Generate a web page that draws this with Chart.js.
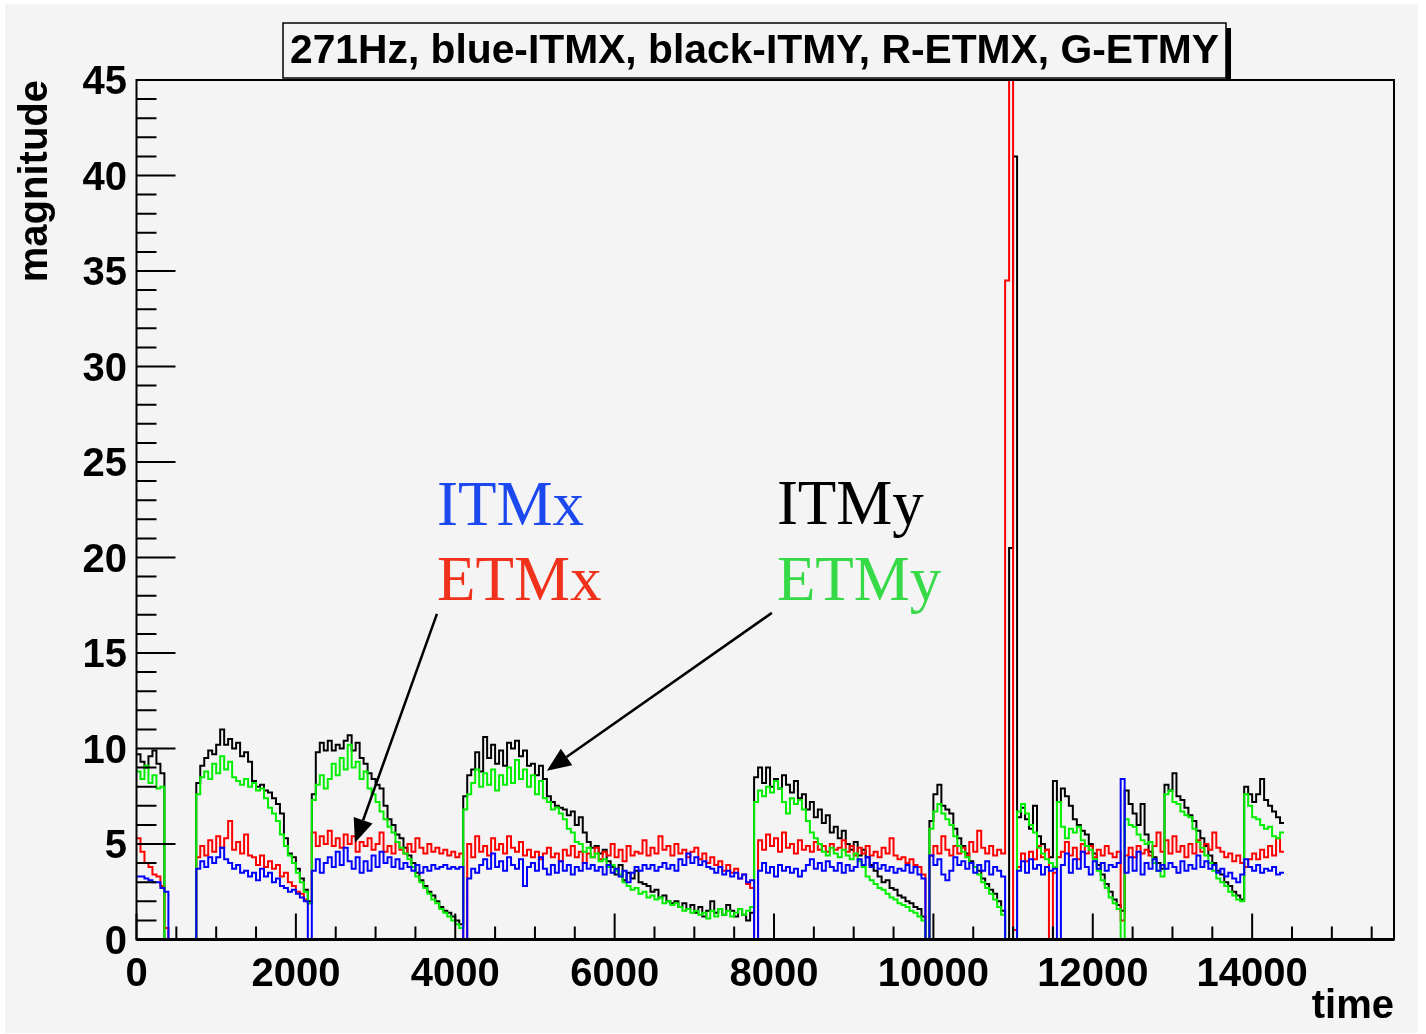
<!DOCTYPE html>
<html>
<head>
<meta charset="utf-8">
<script src="https://cdn.jsdelivr.net/npm/chart.js@4/dist/chart.umd.min.js"></script>
<style>
  html, body { margin: 0; padding: 0; background: #ffffff; }
  canvas { display: block; }
</style>
</head>
<body>
<canvas id="c" width="1426" height="1034"></canvas>
<script>
// Histogram bins: value k covers [k * BIN_WIDTH, (k + 1) * BIN_WIDTH) in time units
const BIN_WIDTH = 50;

// ITMX (blue)
const itmx = [
  3.3, 3.3, 3.2, 3.1, 3.0, 3.0, 2.7, 2.5, 0, 0,
  0, 0, 0, 0, 0, 3.7, 4.1, 3.8, 4.3, 4.0,
  4.3, 4.8, 4.2, 4.0, 3.7, 3.9, 3.5, 3.6, 3.3, 3.5,
  3.1, 3.7, 3.3, 3.5, 3.0, 3.2, 2.8, 2.7, 2.5, 2.6,
  2.4, 2.2, 2.0, 0, 3.6, 4.2, 3.5, 4.0, 4.3, 3.8,
  4.6, 3.9, 4.8, 4.1, 3.7, 4.3, 3.5, 4.1, 3.6, 4.4,
  3.8, 4.6, 4.0, 4.3, 3.8, 4.2, 3.7, 4.0, 3.8, 3.6,
  3.9, 3.5, 3.8, 3.6, 3.9, 3.7, 3.8, 3.9, 3.7, 3.8,
  3.7, 3.8, 0, 3.2, 3.7, 3.5, 3.9, 4.2, 3.7, 4.5,
  3.8, 4.1, 3.6, 4.3, 3.9, 3.7, 4.2, 2.8, 3.8, 4.0,
  3.6, 4.3, 3.7, 3.4, 3.9, 3.5, 4.1, 3.6, 3.9, 3.4,
  3.8, 3.6, 4.0, 3.7, 3.9, 3.6, 3.8, 3.4, 3.9, 3.5,
  3.7, 3.3, 3.6, 3.0, 3.5, 3.8, 3.6, 3.9, 3.7, 3.9,
  3.6, 3.8, 4.0, 3.7, 3.9, 3.6, 4.2, 3.9, 4.5, 4.0,
  4.3, 3.9, 4.1, 3.8, 3.7, 3.5, 3.8, 3.4, 3.6, 3.3,
  3.5, 3.2, 3.4, 3.0, 3.1, 0, 3.6, 4.0, 3.5, 3.8,
  3.3, 3.9, 3.6, 3.8, 3.5, 3.7, 3.3, 3.6, 3.9, 4.2,
  3.7, 4.0, 3.6, 4.1, 3.8, 3.6, 4.0, 3.5, 3.9, 3.6,
  3.8, 4.2, 3.9, 4.3, 3.8, 4.0, 3.7, 3.9, 3.6, 3.8,
  3.5, 3.7, 3.6, 3.9, 3.5, 3.8, 3.4, 3.2, 0, 4.4,
  3.9, 4.2, 3.4, 3.1, 3.6, 4.3, 3.9, 4.1, 3.7, 4.0,
  3.5, 3.9, 3.6, 4.1, 3.4, 3.8, 3.6, 3.3, 0, 0,
  0, 3.6, 4.1, 3.5, 4.2, 3.7, 3.9, 3.4, 3.8, 3.6,
  3.7, 0, 3.9, 4.5, 3.5, 4.2, 3.7, 4.6, 3.8, 3.4,
  4.1, 3.7, 4.0, 3.6, 3.9, 3.8, 4.0, 8.4, 3.5, 4.3,
  3.6, 4.6, 3.4, 4.0, 3.7, 4.2, 3.6, 3.9, 3.7, 4.0,
  3.8, 3.5, 4.1, 3.6, 3.9, 3.7, 4.4, 3.8, 4.1, 3.7,
  3.9, 3.5, 3.7, 3.3, 3.5, 3.2, 3.0, 3.4, 4.2, 3.8,
  3.6, 3.9, 3.5, 3.7, 3.6, 3.8, 3.4, 3.5
];

// ITMY (black)
const itmy = [
  9.7, 9.3, 9.0, 9.6, 9.9, 9.2, 8.7, 0, 0, 0,
  0, 0, 0, 0, 0, 8.2, 9.1, 9.5, 9.9, 9.7,
  10.2, 11.0, 10.2, 10.5, 10.0, 10.3, 9.6, 9.8, 9.3, 8.3,
  8.0, 8.1, 7.8, 7.7, 7.4, 7.1, 6.6, 5.3, 4.5, 4.3,
  3.7, 3.2, 2.6, 2.0, 7.6, 9.8, 10.3, 9.9, 10.4, 9.9,
  10.2, 10.0, 10.4, 10.7, 9.9, 10.3, 9.5, 9.2, 8.7, 8.4,
  8.1, 7.9, 7.0, 6.3, 6.0, 5.5, 5.3, 4.8, 4.4, 4.0,
  3.5, 3.1, 2.8, 2.5, 2.3, 2.0, 1.7, 1.5, 1.4, 1.2,
  1.0, 0.8, 7.5, 8.6, 8.9, 9.8, 8.8, 10.6, 9.5, 10.2,
  9.2, 9.9, 9.1, 10.3, 10.0, 10.4, 9.6, 9.9, 9.1, 9.2,
  8.6, 9.1, 8.4, 7.5, 7.2, 7.0, 6.9, 6.8, 6.5, 6.7,
  6.0, 6.4, 5.6, 5.1, 4.8, 4.9, 4.5, 4.7, 4.1, 3.8,
  3.4, 3.9, 3.1, 3.5, 3.2, 3.6, 3.0, 2.9, 2.8, 2.5,
  2.6, 2.2, 2.3, 2.0, 1.9, 2.0, 1.7, 1.9, 1.6, 1.8,
  1.4, 1.7, 1.2, 1.5, 2.0, 1.4, 1.6, 1.3, 1.8, 1.5,
  1.2, 1.6, 1.3, 1.0, 1.4, 8.5, 9.0, 8.2, 9.0, 8.0,
  8.4, 7.9, 8.6, 8.1, 7.7, 8.3, 7.4, 7.6, 6.8, 7.2,
  6.4, 6.8, 6.1, 6.5, 5.6, 5.9, 5.3, 5.7, 5.0, 4.7,
  5.1, 4.4, 4.7, 4.3, 3.9, 3.6, 3.3, 3.0, 3.1, 2.7,
  2.6, 2.3, 2.2, 2.0, 1.9, 1.7, 1.6, 1.2, 0, 6.2,
  7.6, 8.1, 7.0, 6.8, 6.6, 5.8, 5.3, 4.9, 4.5, 4.1,
  3.8, 3.6, 3.2, 2.9, 2.6, 2.4, 2.0, 1.5, 0, 20.5,
  41.0, 6.4, 6.9, 6.3, 5.8, 7.0, 5.4, 5.0, 4.7, 4.3,
  8.3, 7.2, 7.9, 7.5, 7.0, 6.3, 6.0, 5.7, 5.5, 5.0,
  4.5, 3.9, 3.4, 2.9, 2.5, 2.1, 1.8, 1.5, 7.8, 7.1,
  6.6, 6.0, 7.1, 5.5, 4.6, 4.3, 4.0, 3.7, 8.1, 7.8,
  8.7, 7.5, 7.3, 6.9, 6.5, 6.2, 5.7, 5.3, 4.9, 4.4,
  4.0, 3.6, 3.4, 3.0, 2.8, 2.5, 2.3, 2.1, 8.0, 7.6,
  7.2, 7.6, 8.4, 7.3, 7.0, 6.7, 6.4, 6.1
];

// ETMX (red)
const etmx = [
  5.3, 4.6, 4.0, 3.8, 3.4, 3.3, 2.8, 0.6, 0, 0,
  0, 0, 0, 0, 0, 4.3, 4.9, 4.4, 5.2, 4.6,
  5.4, 4.8, 5.3, 6.2, 4.7, 5.1, 4.5, 5.5, 4.4, 4.3,
  3.9, 4.4, 3.8, 4.1, 3.7, 3.9, 3.3, 3.5, 3.0, 2.8,
  2.5, 2.4, 2.1, 1.9, 5.6, 4.9, 5.4, 5.0, 5.7, 4.9,
  5.3, 4.8, 5.5, 5.0, 5.4, 4.6, 5.1, 4.9, 5.3, 4.7,
  5.0, 5.6, 4.6, 4.9, 4.5, 5.1, 4.7, 4.5, 5.0, 4.6,
  5.3, 4.8, 4.5, 5.0, 4.6, 4.8, 4.5, 4.7, 4.4, 4.6,
  4.3, 4.5, 0, 5.0, 4.3, 5.4, 4.6, 4.9, 4.4, 5.3,
  4.7, 5.0, 4.5, 5.4, 4.8, 4.6, 5.1, 4.4, 4.7, 4.3,
  4.6, 4.2, 4.5, 4.8, 4.3, 4.5, 4.1, 4.7, 4.4, 4.9,
  4.3, 4.6, 4.0, 4.5, 4.3, 4.8, 4.2, 4.6, 4.4, 5.0,
  4.3, 4.7, 4.1, 4.9, 4.4, 4.6, 4.5, 5.2, 4.4, 4.8,
  4.5, 5.4, 4.7, 4.9, 4.4, 5.0, 4.5, 4.7, 4.3, 4.6,
  4.8, 4.2, 4.5, 4.0, 4.3, 3.9, 4.1, 3.6, 3.9, 3.5,
  3.7, 3.2, 3.4, 2.9, 2.7, 0, 5.2, 4.7, 5.5, 4.9,
  5.3, 4.6, 5.6, 4.8, 5.0, 4.5, 5.2, 4.7, 4.9, 4.6,
  5.1, 4.7, 4.9, 4.6, 5.0, 4.7, 4.8, 5.2, 4.6, 4.9,
  4.4, 4.8, 4.5, 4.9, 4.4, 4.6, 4.3, 4.8, 4.5, 5.3,
  4.4, 4.2, 4.3, 4.0, 4.2, 3.9, 3.8, 3.4, 0, 4.4,
  4.9, 4.5, 5.4, 4.7, 4.4, 4.9, 4.5, 4.8, 4.4, 5.1,
  4.6, 5.7, 4.8, 4.5, 4.9, 4.4, 4.7, 4.5, 34.5, 48.0,
  0.5, 3.8, 4.5, 4.1, 4.6, 4.2, 4.9, 4.3, 4.7, 0,
  3.5, 4.3, 4.6, 5.1, 4.4, 4.8, 4.2, 5.0, 4.5, 4.9,
  4.3, 4.7, 4.4, 4.9, 4.5, 4.3, 4.6, 1.0, 4.4, 4.8,
  4.3, 4.9, 4.5, 4.7, 4.4, 4.9, 5.6, 4.6, 5.2, 4.5,
  5.4, 4.6, 4.9, 4.3, 5.0, 4.5, 5.2, 4.6, 5.0, 4.7,
  5.6, 4.8, 4.6, 4.3, 4.5, 4.1, 4.4, 4.0, 3.8, 4.2,
  4.5, 4.2, 4.7, 4.3, 4.9, 4.4, 5.3, 4.6
];

// ETMY (green)
const etmy = [
  8.8, 8.4, 9.1, 8.2, 8.6, 7.9, 8.0, 0, 0, 0,
  0, 0, 0, 0, 0, 7.6, 8.5, 8.8, 8.4, 9.2,
  8.7, 9.6, 8.9, 9.3, 8.5, 8.3, 8.1, 8.4, 8.0, 8.2,
  7.8, 7.9, 7.4, 6.9, 6.6, 6.2, 5.5, 4.9, 4.4, 4.0,
  3.5, 3.0, 2.5, 1.9, 7.3, 8.1, 8.6, 7.9, 8.4, 9.2,
  8.6, 9.5, 8.9, 10.2, 9.0, 9.3, 8.4, 8.8, 7.9, 7.6,
  7.2, 6.7, 6.3, 5.9, 5.6, 5.1, 4.8, 4.5, 4.2, 3.8,
  3.3, 3.0, 2.7, 2.4, 2.1, 1.9, 1.6, 1.4, 1.2, 1.0,
  0.8, 0.6, 6.8, 7.6, 8.2, 8.9, 8.0, 8.7, 8.1, 8.9,
  7.8, 8.6, 8.1, 9.0, 8.2, 9.4, 8.4, 8.9, 8.0, 8.6,
  7.6, 8.3, 7.4, 7.2, 6.8, 6.9, 6.6, 6.3, 5.8, 5.6,
  5.1, 5.0, 4.6, 4.8, 4.3, 4.5, 4.1, 4.2, 3.8, 3.9,
  3.6, 3.4, 3.0, 2.8, 2.6, 2.7, 2.4, 2.5, 2.2, 2.3,
  2.1, 2.2, 1.9, 2.0, 1.8, 1.9, 1.7, 1.5, 1.6, 1.4,
  1.5, 1.3, 1.4, 1.1, 1.5, 1.2, 1.6, 1.3, 1.5, 1.2,
  1.4, 1.6, 1.3, 1.5, 1.7, 7.2, 7.8, 7.5, 8.0, 7.7,
  8.3, 7.9, 7.2, 6.6, 7.4, 7.1, 7.3, 6.8, 6.2, 5.6,
  5.3, 5.0, 4.6, 4.4, 4.8, 4.5, 4.3, 4.7, 4.4, 4.2,
  4.5, 4.1, 3.8, 3.3, 3.1, 2.9, 2.7, 2.6, 2.4, 2.2,
  2.1, 1.9, 1.8, 1.7, 1.5, 1.4, 1.2, 1.0, 0, 5.8,
  6.7, 7.1, 6.6, 6.3, 6.0, 5.4, 4.9, 4.6, 4.3, 4.0,
  3.8, 3.4, 3.0, 2.7, 2.4, 2.1, 1.7, 1.3, 0, 0,
  0, 6.7, 7.1, 6.6, 6.0, 5.6, 4.8, 4.5, 4.2, 4.0,
  3.8, 7.2, 5.9, 5.3, 5.8, 5.6, 5.9, 5.2, 4.9, 4.7,
  4.2, 3.6, 3.1, 2.7, 2.2, 1.9, 1.6, 0, 6.3, 6.0,
  5.9, 5.5, 5.2, 5.0, 5.1, 4.0, 3.6, 3.3, 7.6, 7.8,
  7.2, 7.1, 6.7, 6.5, 6.4, 5.8, 5.1, 4.8, 4.4, 4.0,
  3.6, 3.2, 3.0, 2.8, 2.5, 2.3, 2.1, 2.0, 7.6, 7.0,
  6.4, 6.3, 6.0, 5.8, 5.9, 5.4, 5.3, 5.6
];

// Axis ranges and labelled ticks
const X_MAX = 15780;
const Y_MAX = 45;
const xTickValues = [0, 2000, 4000, 6000, 8000, 10000, 12000, 14000];
const yTickValues = [0, 5, 10, 15, 20, 25, 30, 35, 40, 45];
const X_MINOR_STEP = 500;
const Y_MINOR_STEP = 1;

const titleText = '271Hz, blue-ITMX, black-ITMY, R-ETMX, G-ETMY';

// Hand-written labels and arrows, positioned in (time, magnitude) units
const notes = [
  { text: 'ITMx', color: '#1c48f0', t: 3770, m: 21.7 },
  { text: 'ETMx', color: '#f0321c', t: 3770, m: 17.78 },
  { text: 'ITMy', color: '#000000', t: 8036, m: 21.77 },
  { text: 'ETMy', color: '#36d946', t: 8036, m: 17.78 }
];
const arrows = [
  { from: [3770, 17.05], to: [2742, 5.06] },
  { from: [7973, 17.1], to: [5150, 8.83] }
];

function toSteps(values) {
  const pts = values.map((v, i) => ({ x: i * BIN_WIDTH, y: v }));
  pts.push({ x: values.length * BIN_WIDTH, y: values[values.length - 1] });
  return pts;
}

const SANS = "'Liberation Sans', Arial, Helvetica, sans-serif";
const SERIF = "'Liberation Serif', 'Times New Roman', serif";
Chart.defaults.font.family = SANS;
Chart.defaults.color = '#000000';

const pagePlugin = {
  id: 'page',
  beforeDraw(chart) {
    const { ctx, width, height } = chart;
    ctx.save();
    ctx.fillStyle = '#ffffff';
    ctx.fillRect(0, 0, width, height);
    ctx.fillStyle = '#f4f4f4';
    ctx.fillRect(5, 4, width - 13, height - 5);
    ctx.restore();
  }
};

const framePlugin = {
  id: 'frame',
  afterDatasetsDraw(chart) {
    const { ctx, chartArea: a, scales: { x, y } } = chart;
    ctx.save();
    ctx.strokeStyle = '#000000';
    ctx.lineWidth = 2;
    ctx.strokeRect(a.left, a.top, a.right - a.left, a.bottom - a.top);
    ctx.beginPath();
    for (let v = 0; v <= Y_MAX; v += Y_MINOR_STEP) {
      const py = y.getPixelForValue(v);
      const len = yTickValues.includes(v) ? 39 : 20;
      ctx.moveTo(a.left, py);
      ctx.lineTo(a.left + len, py);
    }
    for (let t = 0; t <= X_MAX; t += X_MINOR_STEP) {
      const px = x.getPixelForValue(t);
      const len = xTickValues.includes(t) ? 26 : 13;
      ctx.moveTo(px, a.bottom);
      ctx.lineTo(px, a.bottom - len);
    }
    ctx.stroke();
    ctx.lineWidth = 3;
    ctx.beginPath();
    ctx.moveTo(a.left, a.bottom);
    ctx.lineTo(a.right, a.bottom);
    ctx.stroke();
    ctx.restore();
  }
};

const titlePlugin = {
  id: 'titleBox',
  afterDraw(chart) {
    const { ctx, chartArea: a } = chart;
    const left = 283, top = 23, right = 1226, bottom = a.top - 2;
    ctx.save();
    ctx.fillStyle = '#000000';
    ctx.fillRect(right, top + 5, 5, a.top - top - 5);
    ctx.fillStyle = '#f4f4f4';
    ctx.fillRect(left, top, right - left, bottom - top);
    ctx.strokeStyle = '#000000';
    ctx.lineWidth = 1.5;
    ctx.strokeRect(left, top, right - left, bottom - top);
    ctx.fillStyle = '#000000';
    ctx.font = 'bold 41px ' + SANS;
    ctx.textAlign = 'center';
    ctx.textBaseline = 'alphabetic';
    const w = ctx.measureText(titleText).width;
    const sx = 929 / w;
    ctx.translate((left + right) / 2, 63);
    ctx.scale(sx, 1);
    ctx.fillText(titleText, 0, 0);
    ctx.restore();
  }
};

const notesPlugin = {
  id: 'notes',
  afterDraw(chart) {
    const { ctx, scales: { x, y } } = chart;
    ctx.save();
    ctx.font = '63px ' + SERIF;
    ctx.textAlign = 'left';
    ctx.textBaseline = 'alphabetic';
    notes.forEach(n => {
      ctx.fillStyle = n.color;
      ctx.fillText(n.text, x.getPixelForValue(n.t), y.getPixelForValue(n.m));
    });
    ctx.strokeStyle = '#000000';
    ctx.fillStyle = '#000000';
    ctx.lineWidth = 2.5;
    arrows.forEach(ar => {
      const x0 = x.getPixelForValue(ar.from[0]), y0 = y.getPixelForValue(ar.from[1]);
      const x1 = x.getPixelForValue(ar.to[0]), y1 = y.getPixelForValue(ar.to[1]);
      const ang = Math.atan2(y1 - y0, x1 - x0);
      const headLen = 24, headHalf = 10;
      const bx = x1 - headLen * Math.cos(ang), by = y1 - headLen * Math.sin(ang);
      ctx.beginPath();
      ctx.moveTo(x0, y0);
      ctx.lineTo(bx, by);
      ctx.stroke();
      ctx.beginPath();
      ctx.moveTo(x1, y1);
      ctx.lineTo(bx + headHalf * Math.sin(ang), by - headHalf * Math.cos(ang));
      ctx.lineTo(bx - headHalf * Math.sin(ang), by + headHalf * Math.cos(ang));
      ctx.closePath();
      ctx.fill();
    });
    ctx.restore();
  }
};

const series = [
  { label: 'ITMX', data: itmx, color: '#0000ff' },
  { label: 'ETMY', data: etmy, color: '#00ee00' },
  { label: 'ETMX', data: etmx, color: '#ff0000' },
  { label: 'ITMY', data: itmy, color: '#000000' }
];

new Chart(document.getElementById('c'), {
  type: 'line',
  data: {
    datasets: series.map(s => ({
      label: s.label,
      data: toSteps(s.data),
      borderColor: s.color,
      backgroundColor: s.color,
      borderWidth: 2,
      stepped: true,
      pointRadius: 0,
      fill: false
    }))
  },
  options: {
    responsive: false,
    animation: false,
    devicePixelRatio: 1,
    layout: { padding: { left: 5, top: 80, right: 32, bottom: 0 } },
    plugins: { legend: { display: false }, tooltip: { enabled: false }, title: { display: false } },
    scales: {
      x: {
        type: 'linear',
        min: 0,
        max: X_MAX,
        grid: { display: false, drawTicks: false },
        border: { display: false },
        afterBuildTicks: s => { s.ticks = xTickValues.map(v => ({ value: v })); },
        afterFit: s => { s.height = 94.5; },
        ticks: {
          font: { size: 40, weight: 'bold' },
          color: '#000000',
          padding: 11,
          maxRotation: 0,
          autoSkip: false,
          callback: v => String(v)
        },
        title: {
          display: true,
          text: 'time',
          align: 'end',
          color: '#000000',
          font: { size: 40, weight: 'bold' },
          padding: { top: 0, bottom: 3 }
        }
      },
      y: {
        type: 'linear',
        min: 0,
        max: Y_MAX,
        grid: { display: false, drawTicks: false },
        border: { display: false },
        afterBuildTicks: s => { s.ticks = yTickValues.map(v => ({ value: v })); },
        afterFit: s => { s.width = 131.5; },
        ticks: {
          font: { size: 40, weight: 'bold' },
          color: '#000000',
          padding: 9.5,
          labelOffset: 3,
          autoSkip: false,
          callback: v => String(v)
        },
        title: {
          display: true,
          text: 'magnitude',
          align: 'end',
          color: '#000000',
          font: { size: 40, weight: 'bold' },
          padding: { top: 7, bottom: 0 }
        }
      }
    }
  },
  plugins: [pagePlugin, framePlugin, titlePlugin, notesPlugin]
});
</script>
</body>
</html>
